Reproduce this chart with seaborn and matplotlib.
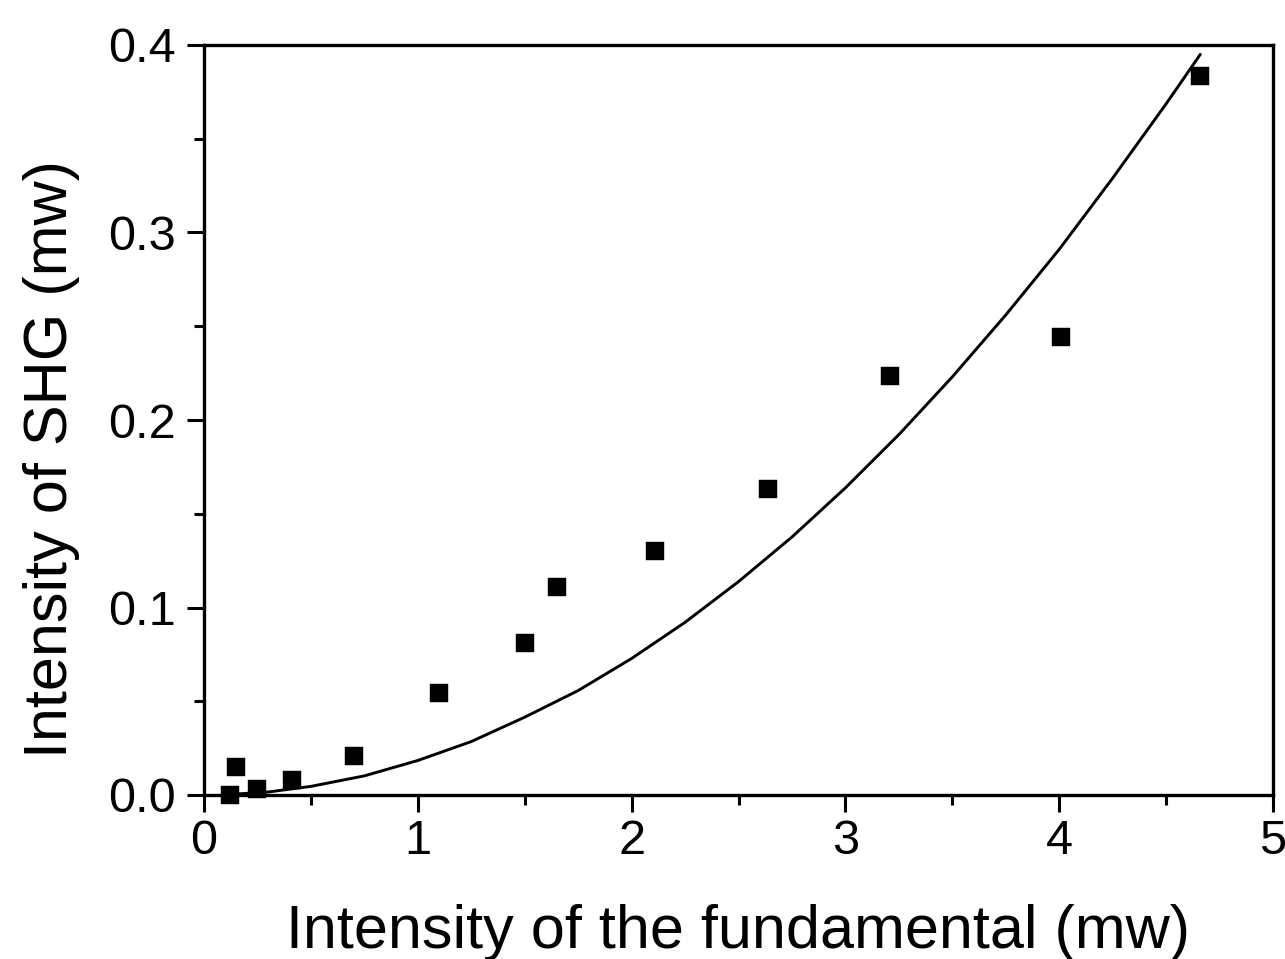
import matplotlib
matplotlib.use("Agg")
import matplotlib.pyplot as plt
import seaborn as sns
import pandas as pd
from matplotlib.ticker import MultipleLocator, FormatStrFormatter

fund_power = [0.12, 0.15, 0.25, 0.41, 0.70, 1.10, 1.50, 1.65, 2.11, 2.64, 3.21, 4.01, 4.66]
shg_power = [0.000, 0.0147, 0.0034, 0.0081, 0.0209, 0.0543, 0.0809, 0.111, 0.130, 0.163, 0.2236, 0.2445, 0.3837]

# Fitted curve, values
fit_x = [0.12, 0.3, 0.5, 0.75, 1.0, 1.25, 1.5, 1.75, 2.0, 2.25, 2.5, 2.75, 3.0,
         3.25, 3.5, 3.75, 4.0, 4.25, 4.5, 4.66]
fit_y = [0.0003, 0.0016, 0.0046, 0.0102, 0.0184, 0.0285, 0.0415, 0.0557, 0.0728,
         0.0921, 0.1138, 0.1376, 0.1638, 0.1922, 0.2230, 0.2560, 0.2910, 0.3290,
         0.3686, 0.3950]

x_label = "Intensity of the fundamental (mw)"
y_label = "Intensity of SHG (mw)"

sns.set_theme(style="ticks")
plt.rcParams["font.family"] = ["Liberation Sans", "DejaVu Sans"]

fig = plt.figure(figsize=(12.85, 9.59), dpi=100)
ax = fig.add_axes([204 / 1285, (959 - 795) / 959, (1273 - 204) / 1285, (795 - 45) / 959])

pts = pd.DataFrame({"x": fund_power, "y": shg_power})
fit = pd.DataFrame({"x": fit_x, "y": fit_y})

sns.lineplot(data=fit, x="x", y="y", ax=ax, color="black", linewidth=2.1,
             sort=False, estimator=None, zorder=2)
sns.scatterplot(data=pts, x="x", y="y", ax=ax, marker="s", s=175, color="black",
                edgecolor="black", linewidth=0.3, zorder=3, clip_on=False)

ax.set_xlim(0, 5)
ax.set_ylim(0, 0.4)
ax.xaxis.set_major_locator(MultipleLocator(1))
ax.xaxis.set_minor_locator(MultipleLocator(0.5))
ax.yaxis.set_major_locator(MultipleLocator(0.1))
ax.yaxis.set_minor_locator(MultipleLocator(0.05))
ax.xaxis.set_major_formatter(FormatStrFormatter("%d"))
ax.yaxis.set_major_formatter(FormatStrFormatter("%.1f"))

for s in ax.spines.values():
    s.set_visible(True)
    s.set_linewidth(2.4)
    s.set_color("black")

ax.tick_params(axis="both", which="major", direction="out", length=12, width=2.2,
               colors="black", labelsize=35)
ax.tick_params(axis="both", which="minor", direction="out", length=7, width=2.2,
               colors="black")
ax.tick_params(axis="x", which="major", pad=5)
ax.tick_params(axis="y", which="major", pad=8)

ax.set_xlabel(x_label, fontsize=44, color="black")
ax.set_ylabel(y_label, fontsize=44, color="black")
ax.xaxis.label.set_va("baseline")
ax.yaxis.label.set_va("baseline")
ax.xaxis.set_label_coords(0.5, (795 - 948) / 750)
ax.yaxis.set_label_coords((67 - 204) / 1069, (795 - 459) / 750)

ax.set_facecolor("white")
fig.patch.set_facecolor("white")

fig.savefig("out.png", dpi=100)
